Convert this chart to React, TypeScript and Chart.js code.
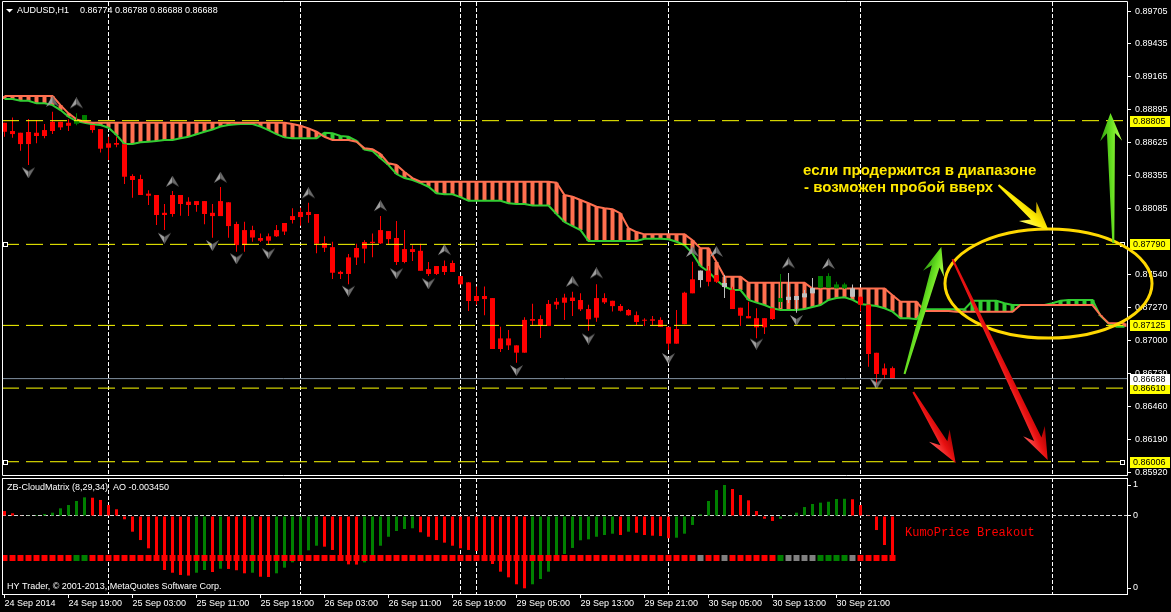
import React, { useEffect, useRef } from "react";
import { Chart, registerables } from "chart.js";

Chart.register(...registerables);

// ---------------- data ----------------
const timeLabels = ["24 Sep 2014", "24 Sep 19:00", "25 Sep 03:00", "25 Sep 11:00", "25 Sep 19:00", "26 Sep 03:00", "26 Sep 11:00", "26 Sep 19:00", "29 Sep 05:00", "29 Sep 13:00", "29 Sep 21:00", "30 Sep 05:00", "30 Sep 13:00", "30 Sep 21:00"];
const timeLabelBars = [0, 8, 16, 24, 32, 40, 48, 56, 64, 72, 80, 88, 96, 104];
const daySeparatorBars = [13, 37, 57, 59, 83, 107, 131];
const priceTickValues = [0.89705, 0.89435, 0.89165, 0.88895, 0.88625, 0.88355, 0.88085, 0.8754, 0.8727, 0.87, 0.8673, 0.8646, 0.8619, 0.8592];
const levelLines = [0.88805, 0.8779, 0.87125, 0.8661, 0.86006];
const bidPrice = 0.86688;

const openPrices = [
  0.88788, 0.8872, 0.88706, 0.88712, 0.88706, 0.88728, 0.8872, 0.88796, 0.88788, 0.8878,
  0.88802, 0.88769, 0.88736, 0.88619, 0.88622, 0.88612, 0.88351, 0.88326, 0.88206, 0.88195,
  0.88049, 0.88039, 0.88195, 0.8814, 0.88145, 0.88145, 0.88049, 0.88022, 0.88135, 0.87957,
  0.87907, 0.87907, 0.87842, 0.87856, 0.87856, 0.87895, 0.8799, 0.88014, 0.88031, 0.88039,
  0.87801, 0.87767, 0.87564, 0.87683, 0.87682, 0.87755, 0.87801, 0.87798, 0.87899, 0.87842,
  0.87751, 0.87751, 0.87737, 0.87587, 0.87612, 0.87612, 0.87637, 0.8753, 0.87478, 0.87366,
  0.87366, 0.87349, 0.87018, 0.87018, 0.86961, 0.86901, 0.87163, 0.87177, 0.8712, 0.87295,
  0.87311, 0.87325, 0.87333, 0.87259, 0.87188, 0.87349, 0.87327, 0.87284, 0.87251, 0.87209,
  0.8717, 0.87175, 0.8717, 0.87113, 0.86975, 0.87134, 0.87388, 0.87575, 0.87575, 0.87538,
  0.87473, 0.87417, 0.8727, 0.87201, 0.87184, 0.87184, 0.87265, 0.87317, 0.87333, 0.87366,
  0.87355, 0.87388, 0.87434, 0.87434, 0.87461, 0.87461, 0.87429, 0.8736, 0.87295, 0.869,
  0.86772, 0.86774,
];
const highPrices = [
  0.88788, 0.88832, 0.88706, 0.88819, 0.8881, 0.88777, 0.88878, 0.88796, 0.88816, 0.88865,
  0.88851, 0.88769, 0.88736, 0.88673, 0.88673, 0.88612, 0.88365, 0.88361, 0.88233, 0.88195,
  0.88121, 0.88227, 0.88195, 0.88176, 0.88145, 0.88145, 0.88121, 0.8826, 0.88135, 0.87976,
  0.87976, 0.87942, 0.8788, 0.8788, 0.87949, 0.87965, 0.88086, 0.8809, 0.88132, 0.88039,
  0.87856, 0.87811, 0.87574, 0.87711, 0.87795, 0.87824, 0.8788, 0.88022, 0.87899, 0.87981,
  0.87907, 0.87782, 0.87795, 0.87645, 0.87612, 0.87657, 0.87657, 0.8753, 0.87478, 0.87445,
  0.87445, 0.87349, 0.87113, 0.87088, 0.86961, 0.87191, 0.87303, 0.87209, 0.87333, 0.8735,
  0.87384, 0.87401, 0.87388, 0.87295, 0.87462, 0.87388, 0.87327, 0.87301, 0.8726, 0.87238,
  0.87184, 0.87201, 0.87191, 0.87113, 0.87251, 0.87401, 0.87647, 0.87575, 0.87612, 0.87538,
  0.87538, 0.87442, 0.8727, 0.87319, 0.87265, 0.87186, 0.87265, 0.87546, 0.87555, 0.87366,
  0.87415, 0.87514, 0.8753, 0.87552, 0.87483, 0.87474, 0.87461, 0.8736, 0.87295, 0.869,
  0.86813, 0.86788,
];
const lowPrices = [
  0.88673, 0.88665, 0.88558, 0.88441, 0.88619, 0.8866, 0.88695, 0.88728, 0.8872, 0.88767,
  0.88802, 0.88706, 0.88543, 0.88482, 0.88586, 0.88285, 0.88173, 0.88195, 0.88113, 0.87949,
  0.87907, 0.88016, 0.88025, 0.88022, 0.88058, 0.87954, 0.87844, 0.88022, 0.87844, 0.87729,
  0.87729, 0.87811, 0.87809, 0.87784, 0.8785, 0.87866, 0.87962, 0.87943, 0.87968, 0.87716,
  0.87727, 0.87505, 0.87505, 0.87462, 0.87621, 0.87634, 0.87685, 0.87793, 0.87784, 0.87621,
  0.87634, 0.87653, 0.87573, 0.8753, 0.87538, 0.87538, 0.87563, 0.87462, 0.87243, 0.87295,
  0.87209, 0.86931, 0.86906, 0.86923, 0.86819, 0.86901, 0.8712, 0.87021, 0.8712, 0.87257,
  0.87169, 0.87201, 0.87243, 0.87081, 0.87155, 0.87301, 0.87238, 0.87238, 0.87203, 0.87128,
  0.8712, 0.87128, 0.87113, 0.86923, 0.86975, 0.87134, 0.87388, 0.87436, 0.87447, 0.87473,
  0.87349, 0.87259, 0.8712, 0.87183, 0.87019, 0.87054, 0.8717, 0.87267, 0.87308, 0.87228,
  0.87355, 0.87388, 0.87429, 0.87431, 0.87429, 0.87423, 0.8736, 0.87238, 0.86785, 0.86635,
  0.86683, 0.86688,
];
const closePrices = [
  0.88714, 0.88695, 0.88613, 0.88613, 0.88679, 0.88679, 0.88796, 0.8875, 0.88763, 0.88802,
  0.88851, 0.88728, 0.88575, 0.88583, 0.88608, 0.88345, 0.88318, 0.88195, 0.88189, 0.88031,
  0.88031, 0.88195, 0.88121, 0.88113, 0.88113, 0.88039, 0.88022, 0.88145, 0.8794, 0.87784,
  0.87784, 0.87846, 0.8782, 0.8782, 0.87907, 0.87965, 0.88022, 0.88056, 0.88056, 0.87795,
  0.87762, 0.87557, 0.87547, 0.87547, 0.8776, 0.87809, 0.87811, 0.87907, 0.87833, 0.87645,
  0.87645, 0.87727, 0.87573, 0.87547, 0.87547, 0.87563, 0.87563, 0.87462, 0.87325, 0.87325,
  0.87341, 0.86931, 0.86931, 0.86961, 0.86901, 0.8717, 0.87177, 0.8712, 0.87301, 0.87319,
  0.87353, 0.87353, 0.87257, 0.87175, 0.87349, 0.87314, 0.87283, 0.87245, 0.87208, 0.87153,
  0.87163, 0.87163, 0.87113, 0.86975, 0.87095, 0.87393, 0.87503, 0.87497, 0.87483, 0.87483,
  0.8744, 0.87259, 0.87204, 0.87183, 0.87109, 0.87109, 0.87177, 0.87349, 0.8736, 0.87333,
  0.87388, 0.87431, 0.8753, 0.8753, 0.87429, 0.87429, 0.8736, 0.87295, 0.8689, 0.86726,
  0.86719, 0.86688,
];
// CloudMatrix state per bar: R = bearish, G = bullish, N = neutral
const barStateRows = [
  "RRRRRRRRRG", "GRRRRRRRRR", "RRRRRRRRRR", "RRRRRRRRRR", "RRRRRRRRRR", "RRRRRRRRRR",
  "RRRRRRRRRR", "RRRRRRRRRR", "RRRRRRRNRR", "NRRRRRRGNN", "NNGGGGNRRR", "RR",
];
// Senkou span A (green) and span B (coral), shifted 29 bars forward
const spanA = [
  0.88983, 0.88983, 0.88969, 0.88969, 0.88947, 0.88947, 0.88933, 0.88892, 0.88837, 0.88802,
  0.88788, 0.88775, 0.88769, 0.88747, 0.88687, 0.88613, 0.88613, 0.88627, 0.88632, 0.88638,
  0.88646, 0.88646, 0.8866, 0.88673, 0.88693, 0.88714, 0.88733, 0.88757, 0.88769, 0.88775,
  0.8878, 0.88777, 0.88757, 0.88728, 0.88695, 0.88668, 0.8866, 0.8866, 0.8866, 0.8866,
  0.88706, 0.88701, 0.88679, 0.88673, 0.8864, 0.88568, 0.88556, 0.88496, 0.88441, 0.88367,
  0.88334, 0.88318, 0.88292, 0.88263, 0.88209, 0.88201, 0.88201, 0.88178, 0.88148, 0.88148,
  0.88148, 0.88148, 0.88148, 0.88127, 0.88121, 0.88121, 0.88109, 0.88109, 0.88109, 0.88039,
  0.87973, 0.8794, 0.87907, 0.87817, 0.87817, 0.87817, 0.87817, 0.87817, 0.87817, 0.87817,
  0.87835, 0.87835, 0.87835, 0.87831, 0.87811, 0.87784, 0.87716, 0.87612, 0.87565, 0.87497,
  0.87442, 0.87415, 0.87415, 0.87334, 0.87312, 0.87292, 0.87265, 0.87251, 0.87251, 0.87251,
  0.87259, 0.87276, 0.87292, 0.87334, 0.8735, 0.87355, 0.87334, 0.87301, 0.87292, 0.87284,
  0.87265, 0.87238, 0.87184, 0.87184, 0.87175, 0.87257, 0.87257, 0.87257, 0.87257, 0.87257,
  0.87257, 0.87327, 0.87327, 0.87327, 0.87327, 0.87306, 0.87292, 0.87292, 0.87292, 0.87292,
  0.87292, 0.87306, 0.87327, 0.87334, 0.87334, 0.87334, 0.87334, 0.87203, 0.87142, 0.87113,
  0.87113,
];
const spanB = [
  0.89007, 0.89007, 0.89007, 0.89007, 0.89007, 0.89007, 0.89007, 0.88933, 0.88865, 0.88816,
  0.88796, 0.88788, 0.88788, 0.88788, 0.88788, 0.88788, 0.88788, 0.88788, 0.88788, 0.88788,
  0.88788, 0.88788, 0.88788, 0.88788, 0.88788, 0.88788, 0.88788, 0.88788, 0.88788, 0.88788,
  0.88788, 0.88788, 0.88788, 0.88788, 0.88788, 0.88788, 0.88777, 0.88763, 0.88742, 0.88714,
  0.88673, 0.88646, 0.88646, 0.88646, 0.88632, 0.88578, 0.8857, 0.88531, 0.88455, 0.88441,
  0.88384, 0.88334, 0.88304, 0.88304, 0.88304, 0.88304, 0.88304, 0.88304, 0.88304, 0.88304,
  0.88304, 0.88304, 0.88304, 0.88304, 0.88304, 0.88304, 0.88304, 0.88304, 0.88304, 0.88296,
  0.88195, 0.88181, 0.88154, 0.88127, 0.88099, 0.88086, 0.88078, 0.88044, 0.87923, 0.87891,
  0.87872, 0.87872, 0.87872, 0.87872, 0.87872, 0.87872, 0.87824, 0.87757, 0.87757, 0.87645,
  0.87524, 0.87524, 0.87524, 0.87474, 0.87474, 0.87474, 0.87474, 0.87474, 0.87474, 0.87474,
  0.87474, 0.87428, 0.87428, 0.87428, 0.87428, 0.87428, 0.87428, 0.87428, 0.87428, 0.87428,
  0.87428, 0.87373, 0.87319, 0.87319, 0.87319, 0.87243, 0.87243, 0.87243, 0.87243, 0.87237,
  0.87237, 0.87237, 0.87237, 0.87237, 0.87237, 0.87237, 0.87237, 0.87292, 0.87292, 0.87292,
  0.87292, 0.87292, 0.87292, 0.87292, 0.87292, 0.87292, 0.87292, 0.87209, 0.87142, 0.87142,
  0.87142,
];
const fractalUpBars = [6, 9, 21, 27, 38, 47, 55, 71, 74, 86, 89, 98, 103];
const fractalUpPrices = [0.8896, 0.88947, 0.88304, 0.88337, 0.88209, 0.88104, 0.87743, 0.87484, 0.87552, 0.87728, 0.87728, 0.87634, 0.87628];
const fractalDownBars = [3, 20, 26, 29, 33, 43, 49, 53, 64, 73, 83, 94, 99, 109];
const fractalDownPrices = [0.88381, 0.87844, 0.87784, 0.87675, 0.87716, 0.87409, 0.87552, 0.8747, 0.86758, 0.87017, 0.86856, 0.86975, 0.87169, 0.86648];
// Awesome Oscillator, in units of 0.001
const aoValues = [
  0.42, 0.23, 0.03, 0.06, 0.08, 0.17, 0.28, 0.65, 0.93, 1.27,
  1.58, 1.55, 1.36, 0.93, 0.57, -0.28, -1.33, -2.04, -2.74, -3.39,
  -4.58, -4.81, -5.0, -5.05, -4.81, -4.58, -4.75, -4.47, -4.49, -4.6,
  -4.86, -4.81, -5.15, -5.17, -4.86, -4.38, -3.93, -3.39, -2.91, -2.52,
  -2.6, -2.88, -3.59, -4.1, -4.12, -3.93, -3.45, -2.52, -1.76, -1.27,
  -1.1, -1.04, -1.38, -1.76, -2.04, -2.26, -2.52, -2.74, -2.88, -2.97,
  -3.82, -4.07, -4.72, -5.2, -5.79, -6.13, -5.79, -5.34, -4.72, -3.82,
  -3.22, -2.71, -2.06, -1.98, -1.76, -1.61, -1.5, -1.61, -1.33, -1.42,
  -1.61, -1.67, -1.7, -1.89, -1.84, -1.5, -0.76, 0.14, 1.27, 2.2,
  2.63, 2.29, 1.78, 1.33, 0.42, -0.23, -0.42, -0.23, -0.03, 0.28,
  0.76, 1.02, 1.13, 1.21, 1.44, 1.46, 1.42, 0.93, 0.08, -1.19,
  -2.46, -3.45,
];

// ---------------- layout / style ----------------
const W = 1171;
const MAIN_H = 477;
const IND_TOP = 477;
const IND_H = 135;
const X_MIN = -0.3125;
const X_MAX = 140.3125;
const Y_MIN = 0.85897;
const Y_MAX = 0.89779;
const AO_MIN = -6.614;
const AO_MAX = 3.222;
const AO_TICKS = [2.628, 0, -6.106];
const MATRIX_LEVEL = -3.56;
const FONT = '"Liberation Sans", Arial, sans-serif';
const SALMON = "#FF7050";
const LIME = "#32CD32";
const YELLOW = "#FFFF00";

const barStates = barStateRows.join("").split("");
const candleColor = (s: string) => (s === "G" ? "#008000" : s === "N" ? "#C0C0C0" : "#FF0000");
const dotColor = (s: string) => (s === "G" ? "#008000" : s === "N" ? "#808080" : "#FF0000");

function makeGlyph(up: boolean) {
  const c = document.createElement("canvas");
  c.width = 13;
  c.height = 12;
  const g = c.getContext("2d")!;
  const pts = up
    ? [[6.5, 0], [13, 11], [6.5, 7], [0, 11]]
    : [[6.5, 12], [13, 1], [6.5, 5], [0, 1]];
  g.fillStyle = "#a0a0a0";
  g.beginPath();
  g.moveTo(pts[0][0], pts[0][1]);
  g.lineTo(pts[3][0], pts[3][1]);
  g.lineTo(pts[2][0], pts[2][1]);
  g.closePath();
  g.fill();
  g.fillStyle = "#6a6a6a";
  g.beginPath();
  g.moveTo(pts[0][0], pts[0][1]);
  g.lineTo(pts[1][0], pts[1][1]);
  g.lineTo(pts[2][0], pts[2][1]);
  g.closePath();
  g.fill();
  return c;
}

function drawArrow(ctx: CanvasRenderingContext2D, x1: number, y1: number, x2: number, y2: number, s: any) {
  const dx = x2 - x1, dy = y2 - y1;
  const L = Math.hypot(dx, dy);
  const ux = dx / L, uy = dy / L, nx = -uy, ny = ux;
  const p = (t: number, w: number) => [x1 + ux * t + nx * w, y1 + uy * t + ny * w];
  const pts = [
    p(0, s.tail / 2), p(L - s.headL * 0.72, s.shaft / 2), p(L - s.headL, s.headW / 2), [x2, y2],
    p(L - s.headL, -s.headW / 2), p(L - s.headL * 0.72, -s.shaft / 2), p(0, -s.tail / 2),
  ];
  const a = p(L - s.headL, s.headW / 2), b = p(L - s.headL, -s.headW / 2);
  const g = ctx.createLinearGradient(a[0], a[1], b[0], b[1]);
  g.addColorStop(0, s.light);
  g.addColorStop(0.5, s.mid);
  g.addColorStop(1, s.dark);
  ctx.fillStyle = g;
  ctx.beginPath();
  ctx.moveTo(pts[0][0], pts[0][1]);
  for (let i = 1; i < pts.length; i++) ctx.lineTo(pts[i][0], pts[i][1]);
  ctx.closePath();
  ctx.fill();
}

const GREEN_ARROW = { tail: 2, shaft: 8, headW: 22, headL: 28, light: "#B8FF50", mid: "#66E020", dark: "#2E9A10" };
const RED_ARROW = { tail: 2, shaft: 8, headW: 24, headL: 32, light: "#FF5A5A", mid: "#E81010", dark: "#A00000" };
const YELLOW_ARROW = { tail: 2, shaft: 8, headW: 26, headL: 28, light: "#FFFF70", mid: "#FFEB00", dark: "#C8A800" };

// annotation geometry in data coordinates (bar index, price)
const annotArrows = [
  { from: [112.5, 0.86726], to: [117.1, 0.87768], style: GREEN_ARROW },
  { from: [138.6, 0.87801], to: [138.25, 0.88868], style: GREEN_ARROW },
  { from: [113.6, 0.86578], to: [118.9, 0.85995], style: RED_ARROW },
  { from: [118.5, 0.87669], to: [130.4, 0.8602], style: RED_ARROW },
  { from: [124.25, 0.88277], to: [130.5, 0.87907], style: YELLOW_ARROW },
];
const annotEllipse = { center: [130.5, 0.87468], rxBars: 12.94, ryPrice: 0.004473 };

const mainDecor = {
  id: "mainDecor",
  beforeDraw(chart: any) {
    const { ctx, width, height } = chart;
    ctx.save();
    ctx.fillStyle = "#000";
    ctx.fillRect(0, 0, width, height);
    ctx.restore();
  },
  afterDraw(chart: any) {
    const { ctx, chartArea: a } = chart;
    const xs = chart.scales.x, ys = chart.scales.y;
    const px = (v: number) => xs.getPixelForValue(v);
    const py = (v: number) => ys.getPixelForValue(v);
    ctx.save();
    // frame
    ctx.strokeStyle = "#fff";
    ctx.lineWidth = 1;
    ctx.beginPath();
    ctx.moveTo(a.left + 0.5, a.bottom + 0.5);
    ctx.lineTo(a.left + 0.5, a.top - 0.5);
    ctx.lineTo(a.right + 0.5, a.top - 0.5);
    ctx.lineTo(a.right + 0.5, a.bottom + 0.5);
    ctx.closePath();
    ctx.stroke();

    // price boxes
    ctx.font = `9px ${FONT}`;
    ctx.textBaseline = "middle";
    ctx.textAlign = "left";
    const boxes: [number, string][] = [...levelLines.map((v) => [v, YELLOW] as [number, string]), [bidPrice, "#FFFFFF"]];
    for (const [v, bg] of boxes) {
      const y = Math.round(py(v));
      ctx.fillStyle = bg;
      ctx.fillRect(a.right + 3, y - 5, 40, 11);
      ctx.fillStyle = "#000";
      ctx.fillText(v.toFixed(5), a.right + 6, y + 0.5);
    }
    // selected-line anchors
    for (const v of [levelLines[1], levelLines[4]]) {
      const y = Math.round(py(v));
      for (const x0 of [a.left + 1, a.right - 7]) {
        ctx.fillStyle = "#fff";
        ctx.fillRect(x0, y - 2, 5, 5);
        ctx.fillStyle = "#000";
        ctx.fillRect(x0 + 1, y - 1, 3, 3);
      }
    }

    // header
    ctx.fillStyle = "#fff";
    ctx.beginPath();
    ctx.moveTo(6, 9);
    ctx.lineTo(13, 9);
    ctx.lineTo(9.5, 12.5);
    ctx.closePath();
    ctx.fill();
    ctx.font = `9px ${FONT}`;
    ctx.fillText("AUDUSD,H1", 17, 11);
    const n = closePrices.length - 1;
    ctx.fillText(
      [openPrices[n], highPrices[n], lowPrices[n], closePrices[n]].map((v) => v.toFixed(5)).join(" "),
      80,
      11
    );

    // ellipse
    const cx = px(annotEllipse.center[0]);
    const cy = py(annotEllipse.center[1]);
    const rx = px(annotEllipse.center[0] + annotEllipse.rxBars) - cx;
    const ry = cy - py(annotEllipse.center[1] + annotEllipse.ryPrice);
    ctx.strokeStyle = "#FFD800";
    ctx.lineWidth = 3;
    ctx.beginPath();
    ctx.ellipse(cx, cy, rx, ry, 0, 0, Math.PI * 2);
    ctx.stroke();

    // arrows
    for (const ar of annotArrows) {
      drawArrow(ctx, px(ar.from[0]), py(ar.from[1]), px(ar.to[0]), py(ar.to[1]), ar.style);
    }

    // comment text
    ctx.fillStyle = "#FFE800";
    ctx.font = `bold 15px ${FONT}`;
    ctx.textBaseline = "middle";
    ctx.fillText("если продержится в диапазоне", 803, 171);
    ctx.fillText("- возможен пробой вверх", 804, 188);
    ctx.restore();
  },
};

const indDecor = {
  id: "indDecor",
  beforeDraw(chart: any) {
    const { ctx, width, height } = chart;
    ctx.save();
    ctx.fillStyle = "#000";
    ctx.fillRect(0, 0, width, height);
    ctx.restore();
  },
  afterDraw(chart: any) {
    const { ctx, chartArea: a } = chart;
    ctx.save();
    ctx.strokeStyle = "#fff";
    ctx.lineWidth = 1;
    ctx.strokeRect(a.left + 0.5, a.top + 0.5, a.right - a.left, a.bottom - a.top);
    ctx.fillStyle = "#fff";
    ctx.font = `9px ${FONT}`;
    ctx.textBaseline = "middle";
    ctx.textAlign = "left";
    const lastAo = aoValues[aoValues.length - 1] / 1000;
    ctx.fillText(`ZB-CloudMatrix (8,29,34)  AO ${lastAo.toFixed(6)}`, 7, a.top + 10);
    ctx.fillText("HY Trader, © 2001-2013, MetaQuotes Software Corp.", 7, a.bottom - 7);
    ctx.fillStyle = "#FF0000";
    ctx.font = `12px "Liberation Mono", "Courier New", monospace`;
    ctx.fillText("KumoPrice Breakout", 905, 56);
    ctx.restore();
  },
};

function mainConfig(): any {
  const xy = (arr: number[]) => arr.map((v, i) => ({ x: i, y: v }));
  const levelDs = levelLines.map((v) => ({
    type: "line",
    data: [{ x: X_MIN, y: v }, { x: X_MAX, y: v }],
    borderColor: YELLOW,
    borderWidth: 1,
    borderDash: [17, 7],
    pointRadius: 0,
    order: 4,
  }));
  return {
    type: "line",
    data: {
      datasets: [
        {
          type: "bar",
          data: spanA.map((v, i) => ({ x: i, y: [Math.min(v, spanB[i]), Math.max(v, spanB[i])] })),
          backgroundColor: spanA.map((v, i) => (v > spanB[i] ? LIME : SALMON)),
          barThickness: 4,
          grouped: false,
          inflateAmount: 0,
          borderWidth: 0,
          order: 10,
        },
        { type: "line", data: xy(spanA), borderColor: LIME, borderWidth: 2, pointRadius: 0, order: 9 },
        { type: "line", data: xy(spanB), borderColor: SALMON, borderWidth: 2, pointRadius: 0, order: 8 },
        {
          type: "bar",
          data: highPrices.map((h, i) => ({ x: i, y: [lowPrices[i], h] })),
          backgroundColor: barStates.map(candleColor),
          barThickness: 1,
          grouped: false,
          inflateAmount: 0,
          borderWidth: 0,
          minBarLength: 1,
          order: 7,
        },
        {
          type: "bar",
          data: openPrices.map((o, i) => ({ x: i, y: [Math.min(o, closePrices[i]), Math.max(o, closePrices[i])] })),
          backgroundColor: barStates.map(candleColor),
          barThickness: 5,
          grouped: false,
          inflateAmount: 0,
          borderWidth: 0,
          minBarLength: 1,
          order: 6,
        },
        {
          type: "line",
          showLine: false,
          data: fractalUpBars.map((b, i) => ({ x: b, y: fractalUpPrices[i] })),
          pointStyle: makeGlyph(true),
          pointRadius: 5,
          order: 5,
        },
        {
          type: "line",
          showLine: false,
          data: fractalDownBars.map((b, i) => ({ x: b, y: fractalDownPrices[i] })),
          pointStyle: makeGlyph(false),
          pointRadius: 5,
          order: 5,
        },
        ...levelDs,
        {
          type: "line",
          data: [{ x: X_MIN, y: bidPrice }, { x: X_MAX, y: bidPrice }],
          borderColor: "#8090A0",
          borderWidth: 1,
          pointRadius: 0,
          order: 4,
        },
      ],
    },
    options: {
      responsive: false,
      animation: false,
      devicePixelRatio: 1,
      events: [],
      layout: { autoPadding: false, padding: { left: 2, top: 2, right: 0, bottom: 2 } },
      plugins: { legend: { display: false }, tooltip: { enabled: false } },
      scales: {
        x: {
          type: "linear",
          offset: false,
          min: X_MIN,
          max: X_MAX,
          position: "bottom",
          afterBuildTicks: (s: any) => {
            s.ticks = daySeparatorBars.map((v) => ({ value: v }));
          },
          afterFit: (s: any) => {
            s.height = 0;
            s.paddingLeft = 0;
            s.paddingRight = 0;
          },
          ticks: { display: false },
          grid: { offset: false, color: "#ffffff", lineWidth: 1, drawTicks: false, drawOnChartArea: true },
          border: { display: false, dash: [4, 2] },
        },
        y: {
          type: "linear",
          position: "right",
          min: Y_MIN,
          max: Y_MAX,
          afterBuildTicks: (s: any) => {
            s.ticks = priceTickValues.map((v) => ({ value: v }));
          },
          afterFit: (s: any) => {
            s.width = 44;
            s.paddingTop = 0;
            s.paddingBottom = 0;
          },
          ticks: { color: "#fff", font: { family: FONT, size: 9 }, padding: 4, callback: (v: any) => Number(v).toFixed(5) },
          grid: { drawOnChartArea: false, drawTicks: true, tickLength: 4, tickColor: "#fff", color: "#fff" },
          border: { display: false },
        },
      },
    },
    plugins: [mainDecor],
  };
}

function indConfig(): any {
  return {
    type: "line",
    data: {
      datasets: [
        {
          type: "bar",
          data: aoValues.map((v, i) => ({ x: i, y: v })),
          backgroundColor: aoValues.map((v, i) => (i > 0 && v > aoValues[i - 1] ? "#008000" : "#FF0000")),
          barThickness: 3,
          grouped: false,
          inflateAmount: 0,
          borderWidth: 0,
          order: 2,
        },
        {
          type: "line",
          showLine: false,
          data: barStates.map((s, i) => ({ x: i, y: MATRIX_LEVEL })),
          pointStyle: "rect",
          pointRadius: 4.243,
          pointBorderWidth: 0,
          pointBackgroundColor: barStates.map(dotColor),
          order: 1,
        },
      ],
    },
    options: {
      responsive: false,
      animation: false,
      devicePixelRatio: 1,
      events: [],
      layout: { autoPadding: false, padding: { left: 2, top: 1, right: 0, bottom: 0 } },
      plugins: { legend: { display: false }, tooltip: { enabled: false } },
      scales: {
        x: {
          type: "linear",
          offset: false,
          min: X_MIN,
          max: X_MAX,
          position: "bottom",
          afterBuildTicks: (s: any) => {
            s.ticks = timeLabelBars.map((v) => ({ value: v }));
          },
          afterFit: (s: any) => {
            s.height = 18;
            s.paddingLeft = 0;
            s.paddingRight = 0;
          },
          ticks: {
            color: "#fff",
            font: { family: FONT, size: 9 },
            padding: 0,
            align: "start",
            autoSkip: false,
            maxRotation: 0,
            minRotation: 0,
            callback: (v: any) => {
              const k = timeLabelBars.indexOf(Math.round(Number(v)));
              return k >= 0 ? timeLabels[k] : "";
            },
          },
          grid: { offset: false, drawOnChartArea: false, drawTicks: true, tickLength: 4, tickColor: "#fff", color: "#fff" },
          border: { display: false },
        },
        xg: {
          axis: "x",
          type: "linear",
          offset: false,
          min: X_MIN,
          max: X_MAX,
          position: "top",
          afterBuildTicks: (s: any) => {
            s.ticks = daySeparatorBars.map((v) => ({ value: v }));
          },
          afterFit: (s: any) => {
            s.height = 0;
            s.paddingLeft = 0;
            s.paddingRight = 0;
          },
          ticks: { display: false },
          grid: { offset: false, color: "#ffffff", lineWidth: 1, drawTicks: false, drawOnChartArea: true },
          border: { display: false, dash: [4, 2] },
        },
        y: {
          type: "linear",
          position: "right",
          min: AO_MIN,
          max: AO_MAX,
          afterBuildTicks: (s: any) => {
            s.ticks = AO_TICKS.map((v) => ({ value: v }));
          },
          afterFit: (s: any) => {
            s.width = 44;
            s.paddingTop = 0;
            s.paddingBottom = 0;
          },
          ticks: { color: "#fff", font: { family: FONT, size: 9 }, padding: 2, callback: (v: any) => (Number(v) > 0 ? "1" : "0") },
          grid: {
            drawOnChartArea: true,
            drawTicks: true,
            tickLength: 4,
            tickColor: "#fff",
            color: (c: any) => (c.tick && c.tick.value === 0 ? "#d8d8d8" : "rgba(0,0,0,0)"),
          },
          border: { display: false, dash: [4, 2] },
        },
      },
    },
    plugins: [indDecor],
  };
}

export default function App() {
  const mainRef = useRef<HTMLCanvasElement>(null);
  const indRef = useRef<HTMLCanvasElement>(null);
  useEffect(() => {
    const mainChart = new Chart(mainRef.current as HTMLCanvasElement, mainConfig());
    const indChart = new Chart(indRef.current as HTMLCanvasElement, indConfig());
    return () => {
      mainChart.destroy();
      indChart.destroy();
    };
  }, []);
  return (
    <div style={{ position: "fixed", left: 0, top: 0, width: W, height: 612, background: "#000", overflow: "hidden" }}>
      <canvas
        ref={mainRef}
        width={W}
        height={MAIN_H}
        style={{ position: "absolute", left: 0, top: 0, width: W, height: MAIN_H }}
      />
      <canvas
        ref={indRef}
        width={W}
        height={IND_H}
        style={{ position: "absolute", left: 0, top: IND_TOP, width: W, height: IND_H }}
      />
    </div>
  );
}
